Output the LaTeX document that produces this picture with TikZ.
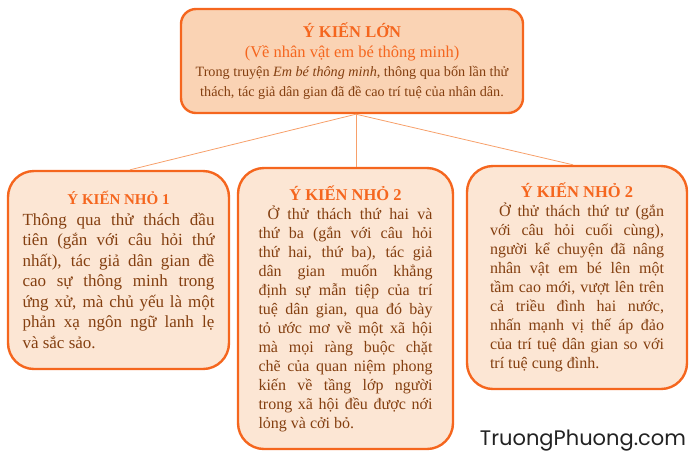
\documentclass[tikz,border=0pt]{standalone}
\usepackage{fontspec}
\setmainfont{Liberation Serif}
\newfontfamily\sitefont{Poppins}
\usepackage{tikz}
\usetikzlibrary{calc}

\definecolor{boxline}{HTML}{F5661E}
\definecolor{bigfill}{HTML}{FAD3B4}
\definecolor{smallfill}{HTML}{FCE6D4}
\definecolor{bodytext}{HTML}{843F10}
\definecolor{linkline}{HTML}{F7A06A}
\definecolor{sitetext}{HTML}{222222}

\newcommand{\ideatitle}[2][16.5]{\centerline{\fontsize{#1}{20}\selectfont\bfseries\color{boxline}#2}}

\begin{document}
\begin{tikzpicture}[x=1pt, y=-1pt,
    bigidea/.style={draw=boxline, line width=2.4pt, fill=bigfill, rounded corners=15pt,
      align=center, text=bodytext, minimum width=342pt, minimum height=104pt, inner sep=0pt},
    idea/.style={draw=boxline, line width=2.4pt, fill=smallfill, rounded corners=26pt,
      align=justify, text=bodytext, inner sep=0pt},
    link/.style={draw=linkline, line width=0.8pt}]
  \useasboundingbox (0,0) rectangle (690,459);

  \node[bigidea, font={\fontsize{14.2}{19.5}\selectfont}] (big) at (352,61)
    {{\fontsize{16.5}{19.5}\selectfont\bfseries\color{boxline}Ý KIẾN LỚN}\\
     {\fontsize{16.5}{19.5}\selectfont\color{boxline}(Về nhân vật em bé thông minh)}\\
     Trong truyện \textit{Em bé thông minh}, thông qua bốn lần thử\\
     thách, tác giả dân gian đã đề cao trí tuệ của nhân dân.};

  \node[idea, text width=192pt, minimum width=221pt, minimum height=198pt,
    font={\fontsize{17}{20.5}\selectfont}] (small1) at (118.5,270)
    {\ideatitle[15]{Ý KIẾN NHỎ 1}
     Thông qua thử thách đầu\linebreak
     tiên (gắn với câu hỏi thứ\linebreak
     nhất), tác giả dân gian đề\linebreak
     cao sự thông minh trong\linebreak
     ứng xử, mà chủ yếu là một\linebreak
     phản xạ ngôn ngữ lanh lẹ\linebreak
     và sắc sảo.};

  \node[idea, text width=174pt, minimum width=215pt, minimum height=281pt,
    font={\fontsize{16}{19}\selectfont}] (small2) at (345.5,308.5)
    {\ideatitle{Ý KIẾN NHỎ 2}
     \hspace*{9pt}Ở thử thách thứ hai và\linebreak
     thứ ba (gắn với câu hỏi\linebreak
     thứ hai, thứ ba), tác giả\linebreak
     dân gian muốn khẳng\linebreak
     định sự mẫn tiệp của trí\linebreak
     tuệ dân gian, qua đó bày\linebreak
     tỏ ước mơ về một xã hội\linebreak
     mà mọi ràng buộc chặt\linebreak
     chẽ của quan niệm phong\linebreak
     kiến về tầng lớp người\linebreak
     trong xã hội đều được nới\linebreak
     lỏng và cởi bỏ.};

  \node[idea, text width=174pt, minimum width=220pt, minimum height=223pt,
    font={\fontsize{16}{19}\selectfont}] (small3) at (577,277.5)
    {\ideatitle{Ý KIẾN NHỎ 2}
     \hspace*{9pt}Ở thử thách thứ tư (gắn\linebreak
     với câu hỏi cuối cùng),\linebreak
     người kể chuyện đã nâng\linebreak
     nhân vật em bé lên một\linebreak
     tầm cao mới, vượt lên trên\linebreak
     cả triều đình hai nước,\linebreak
     nhấn mạnh vị thế áp đảo\linebreak
     của trí tuệ dân gian so với\linebreak
     trí tuệ cung đình.};

  \coordinate (hub) at ($(big.south)+(4,0)$);
  \draw[link] (hub) -- ($(small1.north)+(11.5,0)$);
  \draw[link] (hub) -- ($(small2.north)+(10.5,0)$);
  \draw[link] (hub) -- ($(small3.north)+(-4,0)$);

  \node[font={\sitefont\fontsize{21}{24}\selectfont}, text=sitetext] (site) at (583,441)
    {TruongPhuong.com};
\end{tikzpicture}
\end{document}
